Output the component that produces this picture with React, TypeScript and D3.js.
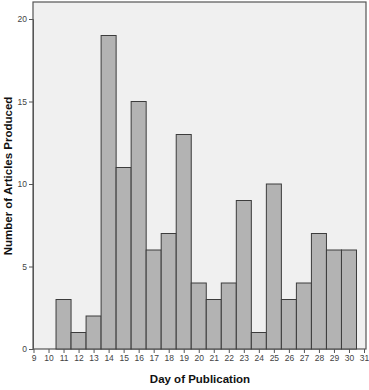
import React, { useRef, useEffect } from "react";
import * as d3 from "d3";

const days = [11, 12, 13, 14, 15, 16, 17, 18, 19, 20, 21, 22, 23, 24, 25, 26, 27, 28, 29, 30];
const articles = [3, 1, 2, 19, 11, 15, 6, 7, 13, 4, 3, 4, 9, 1, 10, 3, 4, 7, 6, 6];
const xTicks = d3.range(9, 32);
const yTicks = [0, 5, 10, 15, 20];

export default function App() {
  const svgRef = useRef<SVGSVGElement>(null);

  useEffect(() => {
    if (!svgRef.current) return;
    const width = 369;
    const height = 390;
    const svg = d3.select(svgRef.current);
    svg.selectAll("*").remove();
    svg.attr("width", width).attr("height", height);

    const plot = { left: 33, right: 366, top: 2, bottom: 349 };

    const x = d3.scaleLinear().domain([9, 31]).range([33.5, 364]);
    const y = d3.scaleLinear().domain([0, 20]).range([349, 19]);

    svg
      .append("rect")
      .attr("width", width)
      .attr("height", height)
      .attr("fill", "#ffffff");

    // plot background
    svg
      .append("rect")
      .attr("x", plot.left)
      .attr("y", plot.top)
      .attr("width", plot.right - plot.left)
      .attr("height", plot.bottom - plot.top)
      .attr("fill", "#f0f0f0")
      .attr("stroke", "#555")
      .attr("stroke-width", 1.2);

    // bars
    svg
      .append("g")
      .selectAll("rect")
      .data(days)
      .join("rect")
      .attr("x", (d) => x(d - 0.5))
      .attr("y", (d, i) => y(articles[i]))
      .attr("width", (d) => x(d + 0.5) - x(d - 0.5))
      .attr("height", (d, i) => y(0) - y(articles[i]))
      .attr("fill", "#b3b3b3")
      .attr("stroke", "#3c3c3c")
      .attr("stroke-width", 1);

    // y axis
    const yAxis = svg
      .append("g")
      .attr("transform", `translate(${plot.left},0)`)
      .call(d3.axisLeft(y).tickValues(yTicks).tickSize(4).tickPadding(2));
    yAxis.select(".domain").attr("stroke", "#555");
    yAxis.selectAll("line").attr("stroke", "#555");
    yAxis
      .selectAll("text")
      .style("font-family", "'Liberation Sans', Arial, sans-serif")
      .style("font-size", "8.5px")
      .style("fill", "#444");

    // x axis
    const xAxis = svg
      .append("g")
      .attr("transform", `translate(0,${plot.bottom})`)
      .call(
        d3
          .axisBottom(x)
          .tickValues(xTicks)
          .tickFormat(d3.format("d"))
          .tickSize(4)
          .tickPadding(2)
      );
    xAxis.select(".domain").remove();
    xAxis.selectAll("line").attr("stroke", "#555");
    xAxis
      .selectAll("text")
      .style("font-family", "'Liberation Sans', Arial, sans-serif")
      .style("font-size", "8.5px")
      .style("fill", "#444");

    // axis titles
    svg
      .append("text")
      .attr("x", 200)
      .attr("y", 383)
      .attr("text-anchor", "middle")
      .style("font-family", "'Liberation Sans', Arial, sans-serif")
      .style("font-size", "11.5px")
      .style("font-weight", "bold")
      .style("fill", "#111")
      .text("Day of Publication");

    svg
      .append("text")
      .attr("transform", "translate(12,176) rotate(-90)")
      .attr("text-anchor", "middle")
      .style("font-family", "'Liberation Sans', Arial, sans-serif")
      .style("font-size", "11.5px")
      .style("font-weight", "bold")
      .style("fill", "#111")
      .text("Number of Articles Produced");
  }, []);

  return (
    <svg
      ref={svgRef}
      style={{ position: "absolute", left: 0, top: 0, display: "block" }}
    />
  );
}
